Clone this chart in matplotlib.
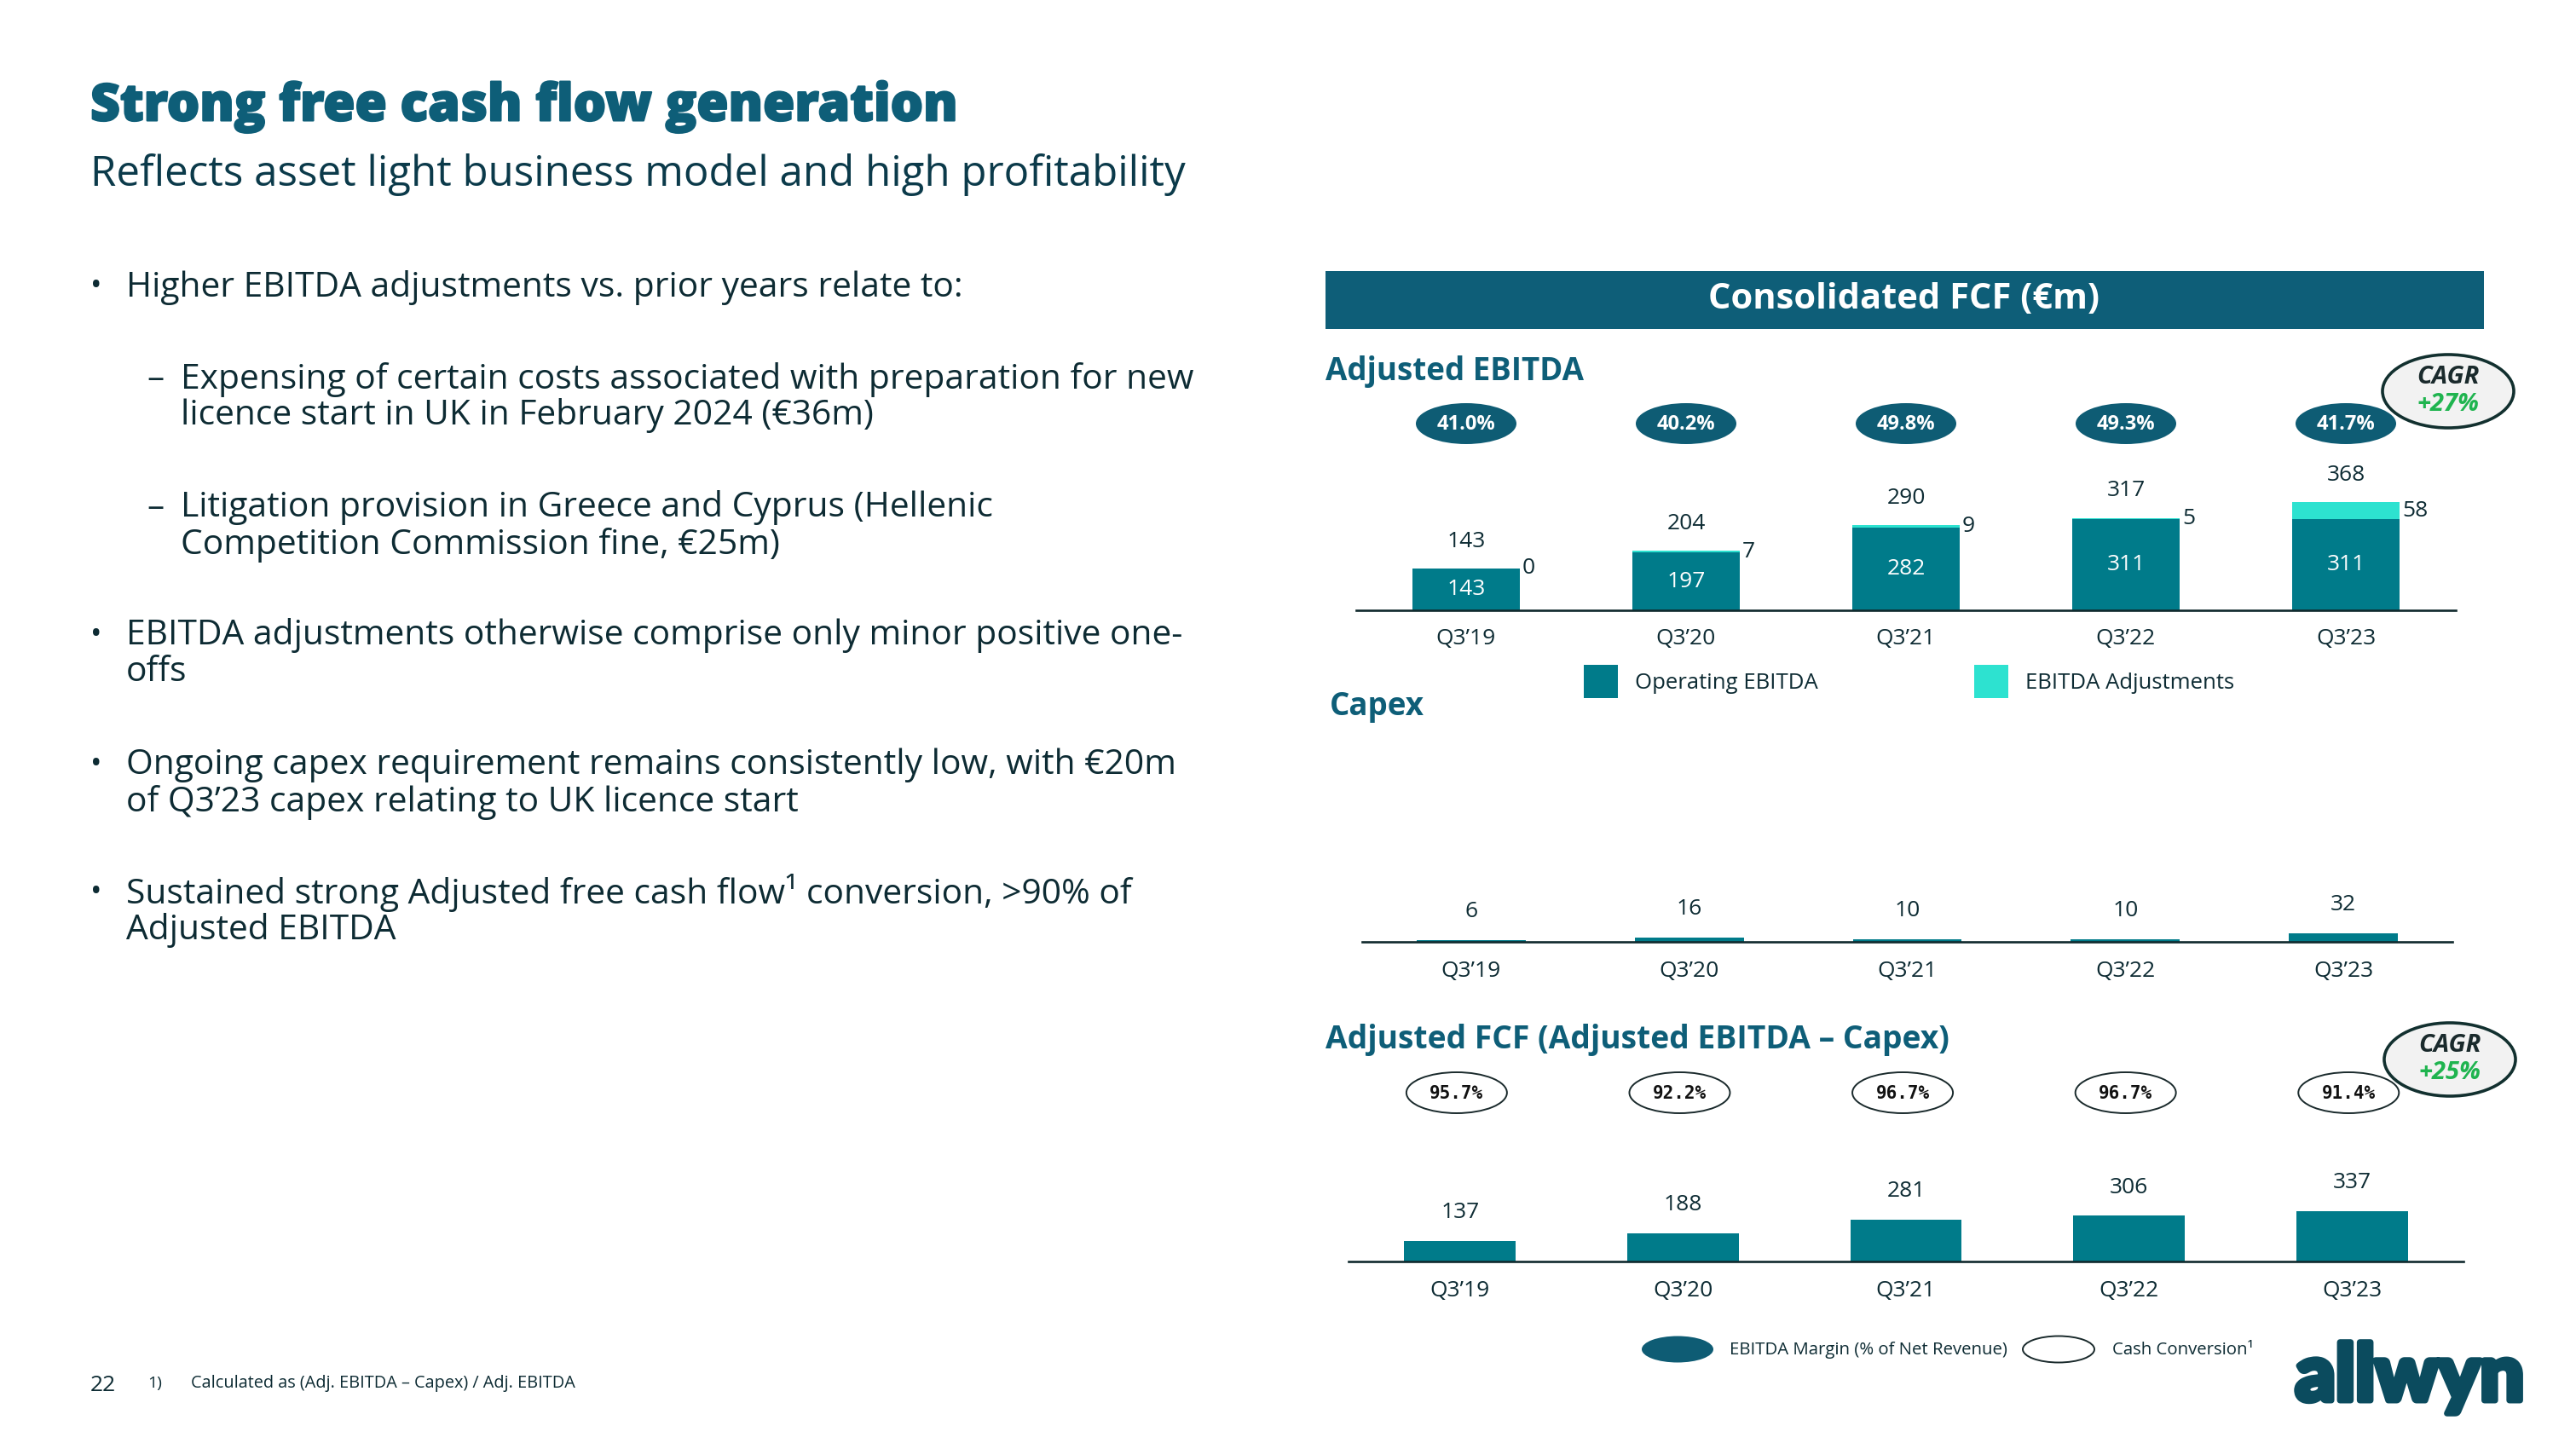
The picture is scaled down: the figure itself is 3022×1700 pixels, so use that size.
import numpy as np
import matplotlib
matplotlib.use("Agg")
import matplotlib.pyplot as plt
from matplotlib.patches import Ellipse, Rectangle
import matplotlib.transforms as mtransforms
import matplotlib.patheffects as pe

# ---------------- data ----------------
categories = ["Q3’19", "Q3’20", "Q3’21", "Q3’22", "Q3’23"]
operating_ebitda = [143, 197, 282, 311, 311]
ebitda_adjustments = [0, 7, 9, 5, 58]
adjusted_ebitda = [143, 204, 290, 317, 368]
ebitda_margin = [41.0, 40.2, 49.8, 49.3, 41.7]
capex = [6, 16, 10, 10, 32]
adjusted_fcf = [137, 188, 281, 306, 337]
cash_conversion = [95.7, 92.2, 96.7, 96.7, 91.4]
ebitda_cagr = "+27%"
fcf_cagr = "+25%"

title = "Strong free cash flow generation"
subtitle = "Reflects asset light business model and high profitability"
bullets = [
    ("•", 0, ["Higher EBITDA adjustments vs. prior years relate to:"], 337),
    ("–", 1, ["Expensing of certain costs associated with preparation for new",
              "licence start in UK in February 2024 (€36m)"], 445),
    ("–", 1, ["Litigation provision in Greece and Cyprus (Hellenic",
              "Competition Commission fine, €25m)"], 596),
    ("•", 0, ["EBITDA adjustments otherwise comprise only minor positive one-",
              "offs"], 746),
    ("•", 0, ["Ongoing capex requirement remains consistently low, with €20m",
              "of Q3’23 capex relating to UK licence start"], 898),
    ("•", 0, ["Sustained strong Adjusted free cash flow¹ conversion, >90% of",
              "Adjusted EBITDA"], 1048),
]

# ---------------- style ----------------
W, H = 3022, 1700
plt.rcParams["font.family"] = ["Open Sans", "DejaVu Sans"]
C_TITLE = "#0E5E78"
C_TEXT = "#0D2B33"
C_OP = "#007B8A"
C_ADJ = "#2DE2D0"
C_OVAL = "#0E5C74"
C_AXIS = "#10292D"
C_GREEN = "#1FB44F"

fig = plt.figure(figsize=(W / 100, H / 100), dpi=100)
fig.patch.set_facecolor("white")


def fx(x):
    return x / W


def fy(y):
    return 1 - y / H


def add_axes_px(left, right, baseline, top):
    return fig.add_axes([fx(left), fy(baseline), (right - left) / W, (baseline - top) / H])


def style_ax(ax, ymax, pad):
    ax.set_xlim(-0.5, 4.5)
    ax.set_ylim(0, ymax)
    for s in ["top", "right", "left"]:
        ax.spines[s].set_visible(False)
    ax.spines["bottom"].set_linewidth(1.9)
    ax.spines["bottom"].set_color(C_AXIS)
    ax.set_yticks([])
    ax.set_xticks(np.arange(len(categories)), categories)
    ax.tick_params(axis="x", length=0, pad=pad, labelsize=19, labelcolor=C_TEXT)
    ax.patch.set_alpha(0)


# ---------------- left text ----------------
fig.text(fx(106), fy(125), title, fontsize=43.5, fontweight=800, color=C_TITLE,
         ha="left", va="center",
         path_effects=[pe.withStroke(linewidth=1.5, foreground=C_TITLE)])
fig.text(fx(106), fy(205), subtitle, fontsize=35.5, color="#0B3A4A", ha="left", va="center")

for mark, level, lines, y0 in bullets:
    xm = 106 if level == 0 else 172
    xt = 148 if level == 0 else 212
    fig.text(fx(xm), fy(y0), mark, fontsize=26 if mark == "•" else 29, color=C_TEXT,
             ha="left", va="center")
    for k, line in enumerate(lines):
        fig.text(fx(xt), fy(y0 + 43 * k), line, fontsize=29.3, color=C_TEXT,
                 ha="left", va="center")

# footer
fig.text(fx(106), fy(1625), "22", fontsize=19, color=C_TEXT, ha="left", va="center")
fig.text(fx(173), fy(1623), "1)", fontsize=14, color=C_TEXT, ha="left", va="center")
fig.text(fx(224), fy(1623), "Calculated as (Adj. EBITDA – Capex) / Adj. EBITDA",
         fontsize=14.3, color=C_TEXT, ha="left", va="center")

# ---------------- chart header ----------------
fig.add_artist(Rectangle((fx(1555), fy(386)), (2914 - 1555) / W, (386 - 318) / H,
                         transform=fig.transFigure, facecolor=C_TITLE, edgecolor="none"))
fig.text(fx(2234), fy(352), "Consolidated FCF (€m)", fontsize=30, fontweight="bold",
         color="white", ha="center", va="center")

fig.text(fx(1555), fy(436), "Adjusted EBITDA", fontsize=26.5, fontweight="bold",
         color=C_TITLE, ha="left", va="center")
fig.text(fx(1560), fy(829), "Capex", fontsize=26.5, fontweight="bold",
         color=C_TITLE, ha="left", va="center")
fig.text(fx(1555), fy(1220), "Adjusted FCF (Adjusted EBITDA – Capex)", fontsize=26.8,
         fontweight="bold", color=C_TITLE, ha="left", va="center")

x = np.arange(len(categories))

# ---------------- Adjusted EBITDA ----------------
ax1 = add_axes_px(1591, 2881, 716, 470)
bw1 = 0.49
ax1.bar(x, operating_ebitda, width=bw1, color=C_OP, zorder=2)
ax1.bar(x, ebitda_adjustments, bottom=operating_ebitda, width=bw1, color=C_ADJ, zorder=2)
style_ax(ax1, 246 / 0.343, 15)
for i in range(len(categories)):
    ax1.annotate(f"{adjusted_ebitda[i]}", (x[i], operating_ebitda[i] + ebitda_adjustments[i]),
                 xytext=(0, 23), textcoords="offset points", ha="center", va="center",
                 fontsize=19, color=C_TEXT)
    ax1.text(x[i], operating_ebitda[i] / 2, f"{operating_ebitda[i]}", ha="center",
             va="center", fontsize=19, color="white", zorder=3)
    ax1.annotate(f"{ebitda_adjustments[i]}",
                 (x[i] + bw1 / 2, operating_ebitda[i] + ebitda_adjustments[i] / 2),
                 xytext=(2, 0), textcoords="offset points", ha="left", va="center",
                 fontsize=19, color=C_TEXT)

tr1 = mtransforms.blended_transform_factory(ax1.transData, fig.transFigure)
for i in range(len(categories)):
    e = Ellipse((x[i], fy(497)), 118 / 258, 48 / H, transform=tr1, facecolor=C_OVAL,
                edgecolor="none", clip_on=False, zorder=4)
    ax1.add_artist(e)
    ax1.text(x[i], fy(498), f"{ebitda_margin[i]:.1f}%", transform=tr1, ha="center",
             va="center", fontsize=17, fontweight="bold", color="white", zorder=5,
             clip_on=False)

# legend of EBITDA chart
for (x0, label, col) in [(1858, "Operating EBITDA", C_OP), (2316, "EBITDA Adjustments", C_ADJ)]:
    fig.add_artist(Rectangle((fx(x0), fy(819)), 40 / W, 39 / H, transform=fig.transFigure,
                             facecolor=col, edgecolor="none"))
    fig.text(fx(x0 + 60), fy(801), label, fontsize=18.5, color=C_TEXT, ha="left", va="center")

# ---------------- Capex ----------------
ax2 = add_axes_px(1598, 2877, 1105, 900)
ax2.bar(x, capex, width=0.5, color=C_OP, zorder=2)
style_ax(ax2, 205 / 0.32, 16)
for i in range(len(categories)):
    ax2.annotate(f"{capex[i]}", (x[i], capex[i]), xytext=(0, 24), textcoords="offset points",
                 ha="center", va="center", fontsize=19, color=C_TEXT)

# ---------------- Adjusted FCF ----------------
ax3 = add_axes_px(1582, 2890, 1480, 1320)
ax3.bar(x, adjusted_fcf, width=0.5, color=C_OP, zorder=2)
style_ax(ax3, 160 / 0.175, 16)
for i in range(len(categories)):
    ax3.annotate(f"{adjusted_fcf[i]}", (x[i], adjusted_fcf[i]), xytext=(0, 24),
                 textcoords="offset points", ha="center", va="center", fontsize=19,
                 color=C_TEXT)

tr3 = mtransforms.blended_transform_factory(ax3.transData, fig.transFigure)
for i in range(len(categories)):
    e = Ellipse((x[i] - 0.015, fy(1282)), 118 / 261.6, 48 / H, transform=tr3,
                facecolor="white", edgecolor="#1A2A2C", lw=1.4, clip_on=False, zorder=4)
    ax3.add_artist(e)
    ax3.text(x[i] - 0.015, fy(1283), f"{cash_conversion[i]:.1f}%", transform=tr3,
             ha="center", va="center", fontsize=15, fontweight="bold",
             family="DejaVu Sans Mono", color="#111111", zorder=5, clip_on=False)

# ---------------- CAGR bubbles ----------------
for (cx, cy, val) in [(2872, 459, ebitda_cagr), (2874, 1243, fcf_cagr)]:
    fig.add_artist(Ellipse((fx(cx), fy(cy)), 154 / W, 86 / H, transform=fig.transFigure,
                           facecolor="#F2F2F2", edgecolor="#12302F", lw=2.6, zorder=10))
    t1 = fig.text(fx(cx), fy(cy - 17), "CAGR", fontsize=21, fontweight="bold",
                  style="italic", color="#1A2A2C", ha="center", va="center")
    t2 = fig.text(fx(cx), fy(cy + 15), val, fontsize=21, fontweight="bold",
                  style="italic", color=C_GREEN, ha="center", va="center")
    t1.set_zorder(11)
    t2.set_zorder(11)

# ---------------- bottom legend ----------------
fig.add_artist(Ellipse((fx(1968), fy(1583)), 84 / W, 31 / H, transform=fig.transFigure,
                       facecolor=C_OVAL, edgecolor="none"))
fig.text(fx(2029), fy(1584), "EBITDA Margin (% of Net Revenue)", fontsize=14.7,
         color=C_TEXT, ha="left", va="center")
fig.add_artist(Ellipse((fx(2415), fy(1583)), 84 / W, 31 / H, transform=fig.transFigure,
                       facecolor="white", edgecolor="#1A2A2C", lw=1.4))
fig.text(fx(2478), fy(1584), "Cash Conversion¹", fontsize=14.7, color=C_TEXT,
         ha="left", va="center")

# ---------------- logo ----------------
fig.text(fx(2827), fy(1643), "allwyn", fontsize=66, fontweight="black",
         family=["Lato", "DejaVu Sans"], color="#0B4B5E", ha="center", va="baseline",
         path_effects=[pe.withStroke(linewidth=5, foreground="#0B4B5E")])

fig.savefig("out.png", dpi=100, facecolor="white")
